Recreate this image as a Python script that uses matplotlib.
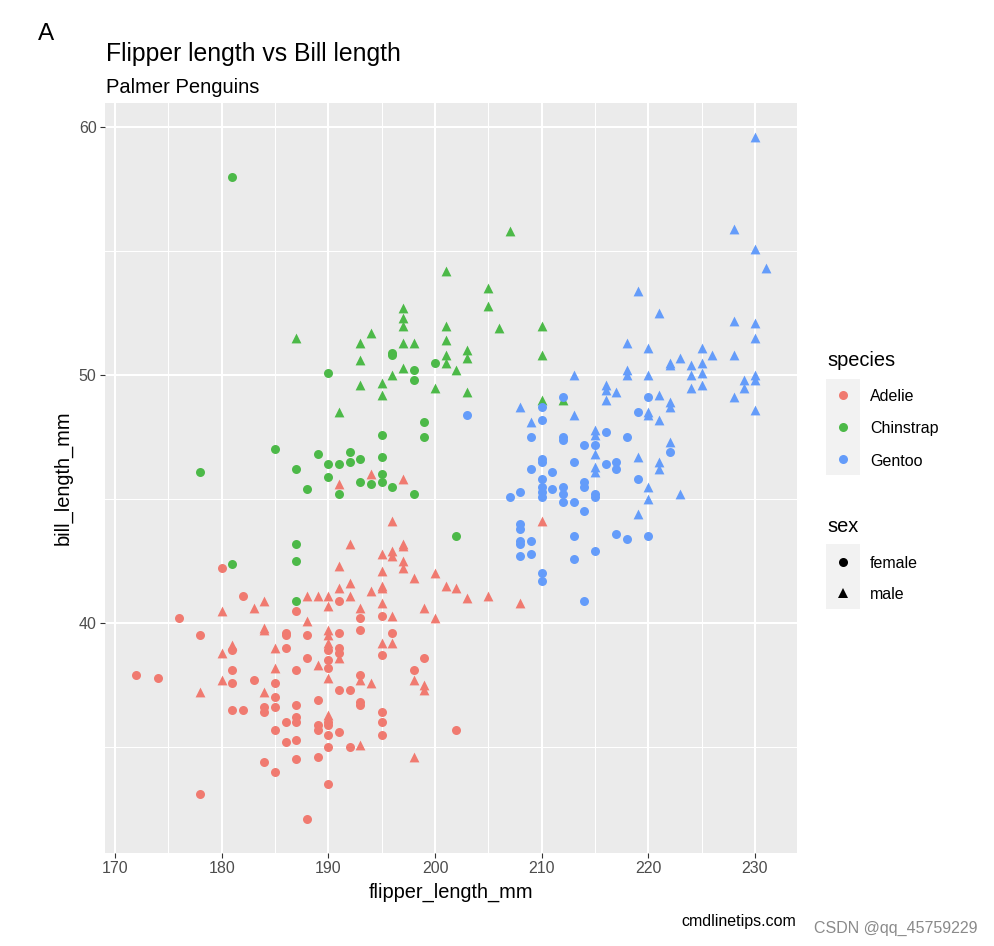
import matplotlib.pyplot as plt
from matplotlib.lines import Line2D
from matplotlib.patches import Rectangle

plt.rcParams["font.family"] = ["Liberation Sans", "DejaVu Sans"]

W, H = 994, 946

# values (flipper_length_mm, bill_length_mm)
adelie_female_flipper = [180, 182, 176, 178, 181, 172, 174, 181, 181, 183, 185, 185, 181, 182, 184,
                         184, 185, 185, 184, 185, 178, 187, 191, 193, 195, 186, 186, 188, 191, 193,
                         196, 186, 190, 190, 190, 191, 191, 188, 187, 193, 191, 192, 189, 193, 193,
                         187, 187, 187, 186, 189, 189, 190, 190, 195, 195, 195, 191, 190, 187, 186,
                         192, 190, 187, 189, 190, 188, 199, 198, 202, 195]
adelie_female_bill = [42.2, 41.1, 40.2, 39.5, 38.9, 37.9, 37.8, 38.1, 37.6, 37.7, 37.6, 37.0, 36.5, 36.5, 36.6,
                      36.4, 36.6, 35.7, 34.4, 34.0, 33.1, 40.5, 40.9, 40.2, 40.3, 39.6, 39.5, 39.5, 39.6, 39.7,
                      39.6, 39.0, 38.9, 38.5, 38.2, 39.0, 38.8, 38.6, 38.1, 37.9, 37.3, 37.3, 36.9, 36.8, 36.7,
                      36.7, 36.2, 36.0, 36.0, 35.9, 35.7, 36.0, 35.9, 36.4, 36.0, 35.5, 35.6, 35.5, 35.3, 35.2,
                      35.0, 35.0, 34.5, 34.6, 33.5, 32.1, 38.6, 38.1, 35.7, 38.7]
adelie_male_flipper = [184, 183, 180, 184, 184, 181, 180, 185, 185, 180, 178, 184, 196, 192, 195,
                       196, 196, 191, 195, 191, 192, 192, 194, 195, 195, 188, 189, 190, 190, 193,
                       195, 196, 188, 190, 190, 190, 190, 191, 195, 196, 189, 193, 194, 190, 193,
                       197, 197, 197, 197, 198, 200, 201, 202, 203, 205, 208, 199, 200, 198, 199,
                       199, 198, 191, 194, 197, 210]
adelie_male_bill = [40.9, 40.6, 40.5, 39.8, 39.7, 39.1, 38.8, 39.0, 38.2, 37.7, 37.2, 37.2, 44.1, 43.2, 42.8,
                    42.9, 42.7, 42.3, 42.1, 41.4, 41.6, 41.1, 41.3, 41.5, 41.4, 41.1, 41.1, 41.1, 40.7, 40.6,
                    40.8, 40.3, 40.1, 39.7, 39.5, 39.2, 37.8, 38.6, 39.2, 39.2, 38.3, 37.7, 37.6, 36.3, 35.1,
                    43.2, 43.1, 42.5, 42.2, 41.8, 42.0, 41.5, 41.4, 41.0, 41.1, 40.8, 40.6, 40.2, 37.7, 37.5,
                    37.3, 34.6, 45.6, 46.0, 45.8, 44.1]

chinstrap_female_flipper = [178, 185, 187, 189, 190, 190, 188, 191, 192, 192, 191, 193, 193, 194, 195,
                            195, 195, 195, 196, 198, 199, 199, 200, 196, 196, 198, 198, 190, 187, 187,
                            181, 187, 202, 181]
chinstrap_female_bill = [46.1, 47.0, 46.2, 46.8, 46.4, 45.9, 45.4, 45.2, 46.9, 46.5, 46.4, 46.6, 45.7, 45.6, 46.0,
                         45.7, 46.7, 47.6, 45.5, 45.2, 48.1, 47.5, 50.5, 50.9, 50.8, 50.2, 49.8, 50.1, 43.2, 42.5,
                         42.4, 40.9, 43.5, 58.0]
chinstrap_male_flipper = [187, 191, 193, 193, 193, 194, 195, 195, 196, 197, 197, 197, 197, 197, 198,
                          200, 201, 201, 201, 201, 201, 202, 203, 203, 203, 205, 205, 206, 207, 210,
                          210, 210, 212]
chinstrap_male_bill = [51.5, 48.5, 51.3, 50.6, 49.6, 51.7, 49.7, 49.2, 50.0, 52.7, 52.3, 52.0, 51.3, 50.3, 51.3,
                       49.5, 54.2, 52.0, 51.4, 50.8, 50.5, 50.2, 51.0, 50.7, 49.3, 53.5, 52.8, 51.9, 55.8, 52.0,
                       50.8, 49.0, 49.0]

gentoo_female_flipper = [203, 209, 209, 207, 208, 212, 210, 210, 219, 212, 212, 216, 218, 214, 215,
                         210, 210, 213, 211, 216, 217, 217, 219, 210, 210, 210, 210, 211, 212, 212,
                         212, 214, 214, 213, 215, 215, 214, 208, 208, 208, 208, 209, 208, 209, 213,
                         215, 217, 218, 213, 210, 210, 214, 220, 222, 220]
gentoo_female_bill = [48.4, 47.5, 46.2, 45.1, 45.3, 49.1, 48.7, 48.2, 48.5, 47.5, 47.4, 47.7, 47.5, 47.2, 47.2,
                      46.6, 46.5, 46.5, 46.1, 46.4, 46.5, 46.2, 45.8, 45.8, 45.5, 45.3, 45.1, 45.4, 45.5, 45.2,
                      44.9, 45.7, 45.5, 44.9, 45.2, 45.1, 44.5, 44.0, 43.8, 43.3, 43.2, 43.3, 42.7, 42.8, 43.5,
                      42.9, 43.6, 43.4, 42.6, 42.0, 41.7, 40.9, 49.1, 46.9, 43.5]
gentoo_male_flipper = [208, 209, 213, 216, 216, 217, 216, 213, 215, 215, 215, 215, 215, 219, 219,
                       219, 221, 228, 230, 230, 218, 220, 225, 223, 226, 228, 222, 222, 224, 225,
                       218, 218, 220, 224, 225, 224, 225, 229, 229, 230, 230, 228, 230, 221, 220,
                       220, 222, 222, 221, 222, 221, 221, 220, 220, 223, 230, 228, 230, 231]
gentoo_male_bill = [48.7, 48.1, 50.0, 49.6, 49.4, 49.3, 49.0, 48.4, 47.8, 47.6, 46.8, 46.3, 46.1, 46.7, 44.4,
                    53.4, 52.5, 52.2, 52.1, 51.5, 51.3, 51.1, 51.1, 50.7, 50.8, 50.8, 50.5, 50.4, 50.4, 50.5,
                    50.2, 50.0, 50.0, 50.0, 50.1, 49.5, 49.6, 49.8, 49.5, 50.0, 49.8, 49.1, 48.6, 49.2, 48.5,
                    48.4, 48.9, 48.7, 48.2, 47.3, 46.5, 46.2, 45.5, 45.0, 45.2, 59.6, 55.9, 55.1, 54.3]

SPECIES = ["Adelie", "Chinstrap", "Gentoo"]
COLORS = {"Adelie": "#F07A70", "Chinstrap": "#4CB948", "Gentoo": "#649CFA"}
MARKERS = {"female": "o", "male": "^"}
GROUPS = [
    ("Adelie", "female", adelie_female_flipper, adelie_female_bill),
    ("Adelie", "male", adelie_male_flipper, adelie_male_bill),
    ("Chinstrap", "female", chinstrap_female_flipper, chinstrap_female_bill),
    ("Chinstrap", "male", chinstrap_male_flipper, chinstrap_male_bill),
    ("Gentoo", "female", gentoo_female_flipper, gentoo_female_bill),
    ("Gentoo", "male", gentoo_male_flipper, gentoo_male_bill),
]


def fx(x):
    return x / W


def fy(y):
    return 1 - y / H


fig = plt.figure(figsize=(W / 100, H / 100), dpi=100)
ax = fig.add_axes([fx(105), fy(853), (797 - 105) / W, (853 - 103) / H])
ax.set_facecolor("#EBEBEB")
for s in ax.spines.values():
    s.set_visible(False)

ax.set_xlim(169.05, 233.95)
ax.set_ylim(30.725, 60.975)
ax.set_xticks(range(170, 231, 10))
ax.set_xticks(range(175, 231, 10), minor=True)
ax.set_yticks([40, 50, 60])
ax.set_yticks([35, 45, 55], minor=True)
ax.grid(which="major", color="white", lw=1.5)
ax.grid(which="minor", color="white", lw=0.75)
ax.set_axisbelow(True)
ax.tick_params(which="minor", length=0)
ax.tick_params(which="major", length=3.6, width=0.8, color="#333333",
               labelcolor="#4D4D4D", labelsize=11.5, pad=2.5)

for sp, sex, xs, ys in GROUPS:
    size = 42 if sex == "female" else 50
    ax.scatter(xs, ys, s=size, marker=MARKERS[sex], color=COLORS[sp],
               linewidths=0, zorder=3)

# titles and axis titles
fig.text(fx(38), fy(40), "A", fontsize=17.5, ha="left", va="baseline")
fig.text(fx(106), fy(60.5), "Flipper length vs Bill length", fontsize=17.8,
         ha="left", va="baseline")
fig.text(fx(106), fy(92.5), "Palmer Penguins", fontsize=14.5, ha="left", va="baseline")
fig.text(fx(451), fy(898), "flipper_length_mm", fontsize=14.4, ha="center", va="baseline")
fig.text(fx(63), fy(478), "bill_length_mm", fontsize=14.4, ha="center", va="center",
         rotation=90)
fig.text(fx(796), fy(926), "cmdlinetips.com", fontsize=11.5, ha="right", va="baseline")
fig.text(fx(978), fy(933), "CSDN @qq_45759229", fontsize=11.5, ha="right", va="baseline",
         color="#8A8A8A")

# legends
fig.text(fx(827), fy(366), "species", fontsize=14.4, ha="left", va="baseline")
fig.add_artist(Rectangle((fx(826), fy(475)), 34 / W, 96 / H, transform=fig.transFigure,
                         facecolor="#F2F2F2", edgecolor="none"))
for sp, y in zip(SPECIES, [395, 427.5, 459.5]):
    fig.add_artist(Line2D([fx(843)], [fy(y)], marker="o", ms=6.5, color=COLORS[sp],
                          mew=0, transform=fig.transFigure))
    fig.text(fx(870), fy(y), sp, fontsize=11.5, ha="left", va="center_baseline")

fig.text(fx(827), fy(532), "sex", fontsize=14.4, ha="left", va="baseline")
fig.add_artist(Rectangle((fx(826), fy(609)), 34 / W, 65 / H, transform=fig.transFigure,
                         facecolor="#F2F2F2", edgecolor="none"))
for sex, y in zip(["female", "male"], [561.5, 593]):
    fig.add_artist(Line2D([fx(843)], [fy(y)], marker=MARKERS[sex], ms=6.5, color="black",
                          mew=0, transform=fig.transFigure))
    fig.text(fx(870), fy(y), sex, fontsize=11.5, ha="left", va="center_baseline")

fig.savefig("out.png", dpi=100)
